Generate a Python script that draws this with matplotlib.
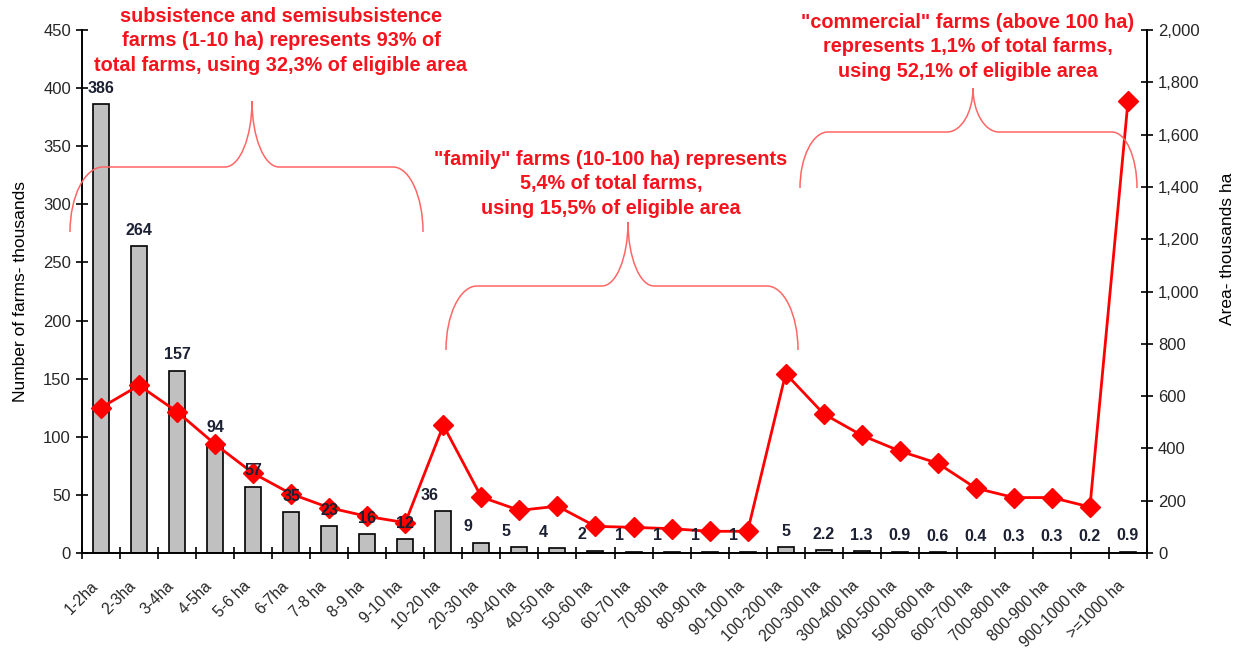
import numpy as np
import matplotlib
matplotlib.use("Agg")
from matplotlib import pyplot as plt
from matplotlib.path import Path
from matplotlib.patches import PathPatch
from matplotlib.ticker import FuncFormatter

plt.rcParams['font.family'] = ['Liberation Sans', 'DejaVu Sans']

# farm size classes
classes = ['1-2ha', '2-3ha', '3-4ha', '4-5ha', '5-6 ha', '6-7ha', '7-8 ha', '8-9 ha',
           '9-10 ha', '10-20 ha', '20-30 ha', '30-40 ha', '40-50 ha', '50-60 ha',
           '60-70 ha', '70-80 ha', '80-90 ha', '90-100 ha', '100-200 ha', '200-300 ha',
           '300-400 ha', '400-500 ha', '500-600 ha', '600-700 ha', '700-800 ha',
           '800-900 ha', '900-1000 ha', '>=1000 ha']
# number of farms (thousands)
farms = [386, 264, 157, 94, 57, 35, 23, 16, 12, 36, 9, 5, 4, 2, 1, 1, 1, 1,
         5, 2.2, 1.3, 0.9, 0.6, 0.4, 0.3, 0.3, 0.2, 0.9]
farm_labels = ['386', '264', '157', '94', '57', '35', '23', '16', '12', '36', '9', '5',
               '4', '2', '1', '1', '1', '1', '5', '2.2', '1.3', '0.9', '0.6', '0.4',
               '0.3', '0.3', '0.2', '0.9']
# area (thousands ha)
area = [556, 641, 540, 416, 305, 226, 173, 140, 116, 488, 214, 163, 179, 102, 98, 93,
        83, 83, 686, 532, 450, 390, 343, 248, 212, 212, 176, 1727]

group_texts = [
    'subsistence and semisubsistence\nfarms (1-10 ha) represents 93% of\ntotal farms, using 32,3% of eligible area',
    '"family" farms (10-100 ha) represents\n5,4% of total farms,\nusing 15,5% of eligible area',
    '"commercial" farms (above 100 ha)\nrepresents 1,1% of total farms,\nusing 52,1% of eligible area',
]

W, H = 1238, 651
fig = plt.figure(figsize=(W / 100, H / 100), dpi=100)
ax1 = fig.add_axes([82 / W, 1 - 553 / H, (1147 - 82) / W, (553 - 30) / H])
ax2 = ax1.twinx()

x = np.arange(len(classes))
ax1.bar(x, farms, width=0.42, color='#c0c0c0', edgecolor='black', linewidth=1.2, zorder=2)
ax2.plot(x, area, color='#ff0000', lw=2, marker='D', ms=10, mec='#ff0000', mfc='#ff0000', zorder=3)

ax1.set_xlim(-0.5, len(classes) - 0.5)
ax1.set_ylim(0, 450)
ax2.set_ylim(0, 2000)
ax1.set_yticks(np.arange(0, 451, 50))
ax2.set_yticks(np.arange(0, 2001, 200))
ax2.yaxis.set_major_formatter(FuncFormatter(lambda v, p: f'{int(v):,}'))

# ticks at class boundaries, labels at class centers
ax1.set_xticks(np.arange(-0.5, len(classes), 1))
ax1.set_xticklabels([])
ax1.set_xticks(x, classes, minor=True)
ax1.tick_params(axis='x', which='minor', length=0, pad=18, labelsize=11.2,
                labelrotation=45, labelcolor='#262626')
for t in ax1.get_xticklabels(minor=True):
    t.set_ha('right')
ax1.tick_params(axis='x', which='major', direction='inout', length=9, width=1.2)
ax1.tick_params(axis='y', direction='inout', length=9, width=1.2, labelsize=12, labelcolor='#262626')
ax2.tick_params(axis='y', direction='inout', length=9, width=1.2, labelsize=12, labelcolor='#262626')

for a in (ax1, ax2):
    a.spines['top'].set_visible(False)
    for s in ('left', 'right', 'bottom'):
        a.spines[s].set_linewidth(1.2)

ax1.set_ylabel('Number of farms- thousands', fontsize=12.5)
ax1.yaxis.set_label_coords(-54 / (1147 - 82), 0.5)
ax2.set_ylabel('Area- thousands ha', fontsize=12.5)
ax2.yaxis.set_label_coords((1220 - 82) / (1147 - 82), (553 - 249) / (553 - 30))

# value labels above bars (drawn on top of the line)
for i, (v, lab) in enumerate(zip(farms, farm_labels)):
    dx = -10 if 9 <= i <= 17 else 0
    ax2.annotate(lab, xy=(i, v), xycoords=ax1.transData, xytext=(dx, 11.5),
                 textcoords='offset points', ha='center', va='center',
                 fontsize=11.5, fontweight='bold', color='#1c2033', zorder=5)


def px(xp, yp):
    return xp / W, 1 - yp / H


def brace(x0, x1, xt, yb, yh, ytip, r0, r1, rt, k=0.55):
    pts = [(x0, yb),
           (x0, yb - k * (yb - yh)), (x0 + r0 - k * r0, yh), (x0 + r0, yh),
           (xt - rt, yh),
           (xt - rt + k * rt, yh), (xt, ytip + k * (yh - ytip)), (xt, ytip),
           (xt, ytip + k * (yh - ytip)), (xt + rt - k * rt, yh), (xt + rt, yh),
           (x1 - r1, yh),
           (x1 - r1 + k * r1, yh), (x1, yb - k * (yb - yh)), (x1, yb)]
    codes = [Path.MOVETO] + [Path.CURVE4] * 3 + [Path.LINETO] + [Path.CURVE4] * 6 + \
            [Path.LINETO] + [Path.CURVE4] * 3
    path = Path([px(*p) for p in pts], codes)
    fig.add_artist(PathPatch(path, fc='none', ec='#ff6666', lw=1.1,
                             transform=fig.transFigure, clip_on=False, zorder=6))


brace(70, 423, 252, 232, 167, 101, 33, 30, 27)
brace(446, 798, 628, 350, 286, 222, 31, 31, 26)
brace(800, 1137, 973, 188, 132, 88, 28, 25, 26)

red = '#f5141e'
for txt, (cx, cy) in zip(group_texts, [(281, 41), (611, 184), (968, 47)]):
    fig.text(*px(cx, cy), txt, ha='center', va='center', color=red, fontsize=14.3,
             fontweight='bold', linespacing=1.38)

fig.savefig('out.png', dpi=100)
